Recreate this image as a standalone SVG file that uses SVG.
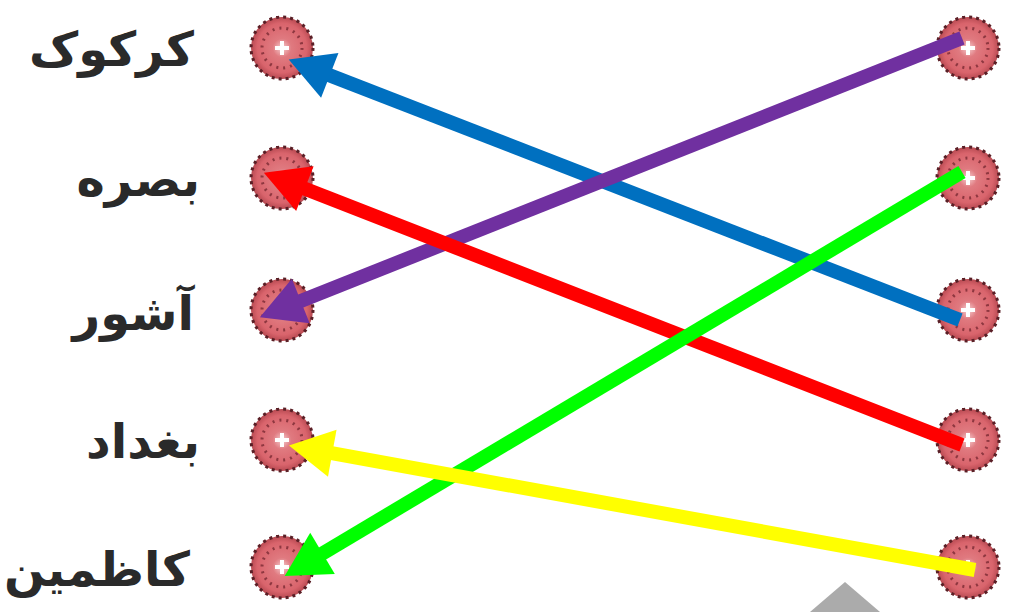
<svg xmlns="http://www.w3.org/2000/svg" width="1011" height="612" viewBox="0 0 1011 612">
<style>
.lbl{font-family:"DejaVu Sans","Noto Sans",sans-serif;font-weight:bold;font-size:48px;fill:#2a2a2a;text-anchor:end}
.ar{fill:none;stroke-width:14;stroke-linecap:butt}
</style>
<defs>
<radialGradient id="g" cx="0.5" cy="0.5" r="0.5">
<stop offset="0" stop-color="#f6d0d2"/>
<stop offset="0.3" stop-color="#e07a80"/>
<stop offset="0.8" stop-color="#d9646c"/>
<stop offset="1" stop-color="#b84a52"/>
</radialGradient>
<symbol id="btn" overflow="visible">
<circle r="31" fill="url(#g)" stroke="#5a1f26" stroke-width="3" stroke-dasharray="3 4"/>
<circle r="20" fill="none" stroke="#7a2a33" stroke-width="3" stroke-dasharray="2 5" opacity="0.8"/>
<path d="M-7,0 H7 M0,-7 V7" stroke="#fff" stroke-width="4"/>
</symbol>
<marker id="mb" markerUnits="userSpaceOnUse" orient="auto" refX="2" refY="0" markerWidth="50" markerHeight="50" overflow="visible"><path d="M0,-24 L44,0 L0,24 z" fill="#0070c0"/></marker>
<marker id="mp" markerUnits="userSpaceOnUse" orient="auto" refX="2" refY="0" markerWidth="50" markerHeight="50" overflow="visible"><path d="M0,-24 L44,0 L0,24 z" fill="#7030a0"/></marker>
<marker id="mr" markerUnits="userSpaceOnUse" orient="auto" refX="2" refY="0" markerWidth="50" markerHeight="50" overflow="visible"><path d="M0,-24 L44,0 L0,24 z" fill="#ff0000"/></marker>
<marker id="mg" markerUnits="userSpaceOnUse" orient="auto" refX="2" refY="0" markerWidth="50" markerHeight="50" overflow="visible"><path d="M0,-24 L44,0 L0,24 z" fill="#00ff00"/></marker>
<marker id="my" markerUnits="userSpaceOnUse" orient="auto" refX="2" refY="0" markerWidth="50" markerHeight="50" overflow="visible"><path d="M0,-24 L44,0 L0,24 z" fill="#ffff00"/></marker>
</defs>
<rect width="1011" height="612" fill="#fff"/>
<g id="left-1"><text class="lbl" x="194" y="66">کرکوک</text><use href="#btn" x="282" y="48"/></g>
<g id="left-2"><text class="lbl" x="200" y="196">بصره</text><use href="#btn" x="282" y="178"/></g>
<g id="left-3"><text class="lbl" x="194" y="330">آشور</text><use href="#btn" x="282" y="310"/></g>
<g id="left-4"><text class="lbl" x="200" y="458">بغداد</text><use href="#btn" x="282" y="440"/></g>
<g id="left-5"><text class="lbl" x="190" y="586">کاظمین</text><use href="#btn" x="282" y="567"/></g>
<g id="right-1"><use href="#btn" x="968" y="48"/></g>
<g id="right-2"><use href="#btn" x="968" y="178"/></g>
<g id="right-3"><use href="#btn" x="968" y="310"/></g>
<g id="right-4"><use href="#btn" x="968" y="440"/></g>
<g id="right-5"><use href="#btn" x="968" y="567"/></g>
<polygon points="845,582 810,612 880,612" fill="#ababab"/>
<g id="connectors">
<path class="ar" stroke="#0070c0" d="M960,320 L327.9,74.6" marker-end="url(#mb)"/>
<path class="ar" stroke="#7030a0" d="M962,38 L298.9,301.7" marker-end="url(#mp)"/>
<path class="ar" stroke="#ff0000" d="M962,445 L303,188" marker-end="url(#mr)"/>
<path class="ar" stroke="#00ff00" d="M962,172 L320.8,554.5" marker-end="url(#mg)"/>
<path class="ar" stroke="#ffff00" d="M975,570 L330.3,452.9" marker-end="url(#my)"/>
</g>
</svg>
